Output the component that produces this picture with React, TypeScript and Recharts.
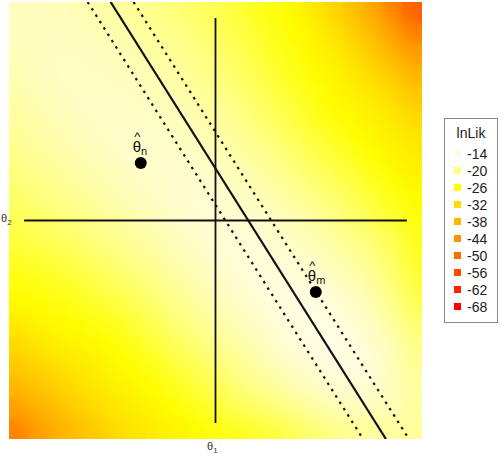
import { ScatterChart, Scatter, XAxis, YAxis } from 'recharts';

const W = 504;
const H = 466;
const MARGIN = { top: 2, right: 82, bottom: 27, left: 9 };
const FONT = '"Liberation Sans", Arial, sans-serif';

// grid of the log-likelihood surface (cell centres)
const theta1Grid = [-3, -2.7, -2.4, -2.1, -1.8, -1.5, -1.2, -0.9, -0.6, -0.3, 0, 0.3, 0.6, 0.9, 1.2, 1.5, 1.8, 2.1, 2.4, 2.7, 3];
const theta2Grid = [3, 2.7, 2.4, 2.1, 1.8, 1.5, 1.2, 0.9, 0.6, 0.3, 0, -0.3, -0.6, -0.9, -1.2, -1.5, -1.8, -2.1, -2.4, -2.7, -3];

// lnLik values, one row per theta2 (top row = theta2 = 3)
const lnLikRows = [
  [-16.2, -16.2, -16.4, -16.8, -17.4, -18.0, -18.7, -19.5, -20.3, -21.2, -22.0, -23.1, -24.3, -25.6, -27.0, -29.7, -32.5, -36.2, -40.4, -46.0, -52.0],
  [-16.2, -16.1, -16.1, -16.3, -16.7, -17.3, -17.9, -18.7, -19.5, -20.3, -21.4, -22.5, -23.7, -24.9, -26.3, -27.9, -30.6, -33.6, -37.4, -41.8, -47.0],
  [-16.4, -16.1, -16.0, -16.0, -16.2, -16.6, -17.2, -17.9, -18.7, -19.6, -20.7, -21.8, -23.1, -24.3, -25.6, -27.1, -28.7, -31.6, -34.6, -38.2, -42.0],
  [-16.8, -16.3, -16.0, -15.8, -15.9, -16.1, -16.5, -17.2, -17.9, -18.9, -19.9, -21.1, -22.3, -23.6, -24.9, -26.3, -27.9, -29.6, -32.1, -34.8, -38.2],
  [-17.4, -16.7, -16.2, -15.9, -15.7, -15.8, -16.0, -16.5, -17.2, -18.0, -19.0, -20.2, -21.4, -22.7, -24.1, -25.5, -27.0, -28.3, -29.7, -32.3, -35.0],
  [-18.0, -17.3, -16.6, -16.1, -15.8, -15.6, -15.7, -15.9, -16.5, -17.2, -18.2, -19.2, -20.5, -21.8, -23.2, -24.6, -25.8, -27.0, -28.4, -29.8, -32.4],
  [-18.7, -17.9, -17.2, -16.5, -16.0, -15.7, -15.5, -15.6, -15.9, -16.4, -17.3, -18.3, -19.4, -20.7, -22.1, -23.4, -24.6, -25.9, -27.1, -28.5, -30.1],
  [-19.5, -18.7, -17.9, -17.2, -16.5, -15.9, -15.6, -15.4, -15.5, -15.8, -16.4, -17.3, -18.4, -19.6, -20.8, -22.1, -23.4, -24.7, -25.9, -27.3, -28.9],
  [-20.3, -19.5, -18.7, -17.9, -17.2, -16.5, -15.9, -15.5, -15.2, -15.3, -15.7, -16.4, -17.3, -18.4, -19.5, -20.8, -22.0, -23.3, -24.8, -26.2, -27.6],
  [-21.2, -20.3, -19.6, -18.9, -18.0, -17.2, -16.4, -15.8, -15.3, -15.1, -15.2, -15.6, -16.3, -17.2, -18.2, -19.4, -20.7, -22.1, -23.5, -25.0, -26.5],
  [-22.0, -21.4, -20.7, -19.9, -19.0, -18.2, -17.3, -16.4, -15.7, -15.2, -15.0, -15.1, -15.4, -16.1, -17.0, -18.1, -19.3, -20.7, -22.2, -23.7, -25.2],
  [-23.1, -22.5, -21.8, -21.1, -20.2, -19.2, -18.3, -17.3, -16.4, -15.6, -15.1, -14.8, -14.9, -15.3, -15.9, -16.9, -18.1, -19.4, -20.8, -22.3, -24.7],
  [-24.3, -23.7, -23.1, -22.3, -21.4, -20.5, -19.4, -18.4, -17.3, -16.3, -15.4, -14.9, -14.6, -14.7, -15.1, -15.8, -16.8, -18.0, -19.4, -21.5, -23.9],
  [-25.6, -24.9, -24.3, -23.6, -22.7, -21.8, -20.7, -19.6, -18.4, -17.2, -16.1, -15.3, -14.7, -14.4, -14.5, -14.9, -15.6, -16.7, -18.4, -20.4, -23.1],
  [-27.0, -26.3, -25.6, -24.9, -24.1, -23.2, -22.1, -20.8, -19.5, -18.2, -17.0, -15.9, -15.1, -14.5, -14.2, -14.3, -14.7, -15.7, -17.3, -19.3, -21.9],
  [-29.5, -27.9, -27.1, -26.3, -25.5, -24.6, -23.4, -22.1, -20.7, -19.4, -18.1, -16.9, -15.8, -14.9, -14.3, -14.0, -14.2, -14.9, -16.1, -18.1, -20.7],
  [-32.1, -30.4, -28.7, -27.9, -27.0, -25.8, -24.6, -23.4, -22.0, -20.7, -19.3, -18.1, -16.8, -15.6, -14.7, -14.2, -14.0, -14.3, -15.3, -17.0, -19.6],
  [-34.8, -33.0, -31.2, -29.6, -28.3, -27.0, -25.9, -24.7, -23.3, -22.1, -20.7, -19.4, -18.0, -16.7, -15.7, -14.9, -14.3, -14.2, -14.9, -16.4, -18.7],
  [-37.8, -35.6, -33.8, -31.7, -29.7, -28.4, -27.1, -25.9, -24.8, -23.5, -22.2, -20.8, -19.4, -18.4, -17.3, -16.1, -15.3, -14.9, -15.2, -16.4, -18.1],
  [-41.5, -38.6, -36.2, -34.0, -32.0, -29.8, -28.5, -27.3, -26.2, -25.0, -23.7, -22.3, -21.5, -20.4, -19.3, -18.1, -17.0, -16.4, -16.4, -16.8, -18.1],
  [-46.0, -42.0, -39.0, -36.5, -34.2, -32.0, -30.1, -28.9, -27.6, -26.5, -25.2, -24.7, -23.9, -23.1, -21.9, -20.7, -19.6, -18.7, -18.1, -18.1, -18.5],
];

const legendLevels = [-14, -20, -26, -32, -38, -44, -50, -56, -62, -68];
const legendColors = ['#fffde4', '#ffff80', '#ffff00', '#ffdb00', '#ffb600', '#ff9200', '#ff6d00', '#ff4900', '#ff2400', '#ff0000'];

// the two estimates
const estimates = [
  { t1: -1.14, t2: 0.83, sub: 'n' },
  { t1: 1.53, t2: -1.03, sub: 'm' },
];

// straight lines (end points)
const centreLine = [{ t1: -1.6, t2: 3.15 }, { t1: 2.6, t2: -3.15 }];
const lowerLine = [{ t1: -1.95, t2: 3.15 }, { t1: 2.25, t2: -3.15 }];
const upperLine = [{ t1: -1.25, t2: 3.15 }, { t1: 2.95, t2: -3.15 }];
const vAxisLine = [{ t1: 0, t2: -2.92 }, { t1: 0, t2: 2.92 }];
const hAxisLine = [{ t1: -2.92, t2: 0 }, { t1: 2.92, t2: 0 }];

const DOMAIN: [number, number] = [-3.15, 3.15];
const PLOT = { x: MARGIN.left, y: MARGIN.top, w: W - MARGIN.left - MARGIN.right, h: H - MARGIN.top - MARGIN.bottom };
const CELL_W = PLOT.w / theta1Grid.length;
const CELL_H = PLOT.h / theta2Grid.length;

const hexToRgb = (h: string) => [1, 3, 5].map((k) => parseInt(h.slice(k, k + 2), 16));

function heatColor(v: number) {
  if (v >= legendLevels[0]) return legendColors[0];
  for (let k = 1; k < legendLevels.length; k++) {
    if (v >= legendLevels[k]) {
      const f = (legendLevels[k - 1] - v) / (legendLevels[k - 1] - legendLevels[k]);
      const a = hexToRgb(legendColors[k - 1]);
      const b = hexToRgb(legendColors[k]);
      const c = a.map((ch, n) => Math.round(ch + (b[n] - ch) * f));
      return `rgb(${c[0]},${c[1]},${c[2]})`;
    }
  }
  return legendColors[legendColors.length - 1];
}

const cells = lnLikRows.flatMap((row, j) =>
  row.map((v, i) => ({ t1: theta1Grid[i], t2: theta2Grid[j], lnLik: v, fill: heatColor(v) }))
);

const HeatCell = (props: any) => (
  <g>
    {props.index === 0 && (
      <defs>
        <filter id="heatBlur" filterUnits="userSpaceOnUse" x={PLOT.x} y={PLOT.y} width={PLOT.w} height={PLOT.h}>
          <feGaussianBlur stdDeviation="8" edgeMode="duplicate" />
        </filter>
      </defs>
    )}
    <rect
      x={props.cx - CELL_W / 2 - 0.3}
      y={props.cy - CELL_H / 2 - 0.3}
      width={CELL_W + 0.6}
      height={CELL_H + 0.6}
      fill={props.payload.fill}
    />
  </g>
);

const NoDot = () => <g />;

// dot with a hatted theta label, kept in one text element
const EstimateDot = (props: any) => (
  <g fontFamily={FONT} fill="#111">
    <circle cx={props.cx} cy={props.cy} r={6} fill="#000" />
    <text fontSize={15}>
      <tspan x={props.cx - 6.6} y={props.cy - 22} fontSize={13}>^</tspan>
      <tspan x={props.cx - 8} y={props.cy - 11}>θ</tspan>
      <tspan fontSize={11} dy={3}>{props.payload.sub}</tspan>
    </text>
  </g>
);

export default function App() {
  return (
    <div style={{ position: 'absolute', left: 0, top: 0, width: W, height: H, background: '#fff', fontFamily: FONT }}>
      <style>{'.heat-layer { filter: url(#heatBlur); }'}</style>
      <ScatterChart width={W} height={H} margin={MARGIN}>
        <XAxis type="number" dataKey="t1" domain={DOMAIN} hide allowDataOverflow />
        <YAxis type="number" dataKey="t2" domain={DOMAIN} hide allowDataOverflow />
        {/* crisp copy underneath keeps the panel edges solid, smoothed copy on top */}
        <Scatter data={cells} shape={HeatCell} isAnimationActive={false} />
        <Scatter className="heat-layer" data={cells} shape={HeatCell} isAnimationActive={false} />
        <Scatter data={vAxisLine} line={{ stroke: '#111', strokeWidth: 1.8 }} shape={NoDot} isAnimationActive={false} />
        <Scatter data={hAxisLine} line={{ stroke: '#111', strokeWidth: 1.8 }} shape={NoDot} isAnimationActive={false} />
        <Scatter data={lowerLine} line={{ stroke: '#111', strokeWidth: 2.2, strokeDasharray: '2.5 5' }} shape={NoDot} isAnimationActive={false} />
        <Scatter data={upperLine} line={{ stroke: '#111', strokeWidth: 2.2, strokeDasharray: '2.5 5' }} shape={NoDot} isAnimationActive={false} />
        <Scatter data={centreLine} line={{ stroke: '#111', strokeWidth: 2.2 }} shape={NoDot} isAnimationActive={false} />
        <Scatter data={estimates} shape={EstimateDot} isAnimationActive={false} />
      </ScatterChart>

      {/* axis titles */}
      <div style={{ position: 'absolute', left: 207, top: 440, fontSize: 11, color: '#333' }}>
        θ<span style={{ fontSize: 8, verticalAlign: 'sub' }}>1</span>
      </div>
      <div style={{ position: 'absolute', left: 1, top: 212, fontSize: 11, color: '#333', whiteSpace: 'nowrap' }}>
        θ<span style={{ fontSize: 8, verticalAlign: 'sub' }}>2</span>
      </div>

      {/* legend */}
      <div
        style={{
          position: 'absolute', left: 444, top: 118, width: 52, height: 203,
          border: '1px solid #888', boxSizing: 'content-box', color: '#222',
        }}
      >
        <div style={{ position: 'absolute', left: 0, width: 52, top: 6, textAlign: 'center', fontSize: 14 }}>lnLik</div>
        {legendLevels.map((lv, k) => (
          <div key={lv} style={{ position: 'absolute', left: 9, top: 26 + k * 17, height: 17, display: 'flex', alignItems: 'center' }}>
            <div style={{ width: 7, height: 7, background: legendColors[k] }} />
            <span style={{ marginLeft: 6, fontSize: 14 }}>{lv}</span>
          </div>
        ))}
      </div>
    </div>
  );
}
